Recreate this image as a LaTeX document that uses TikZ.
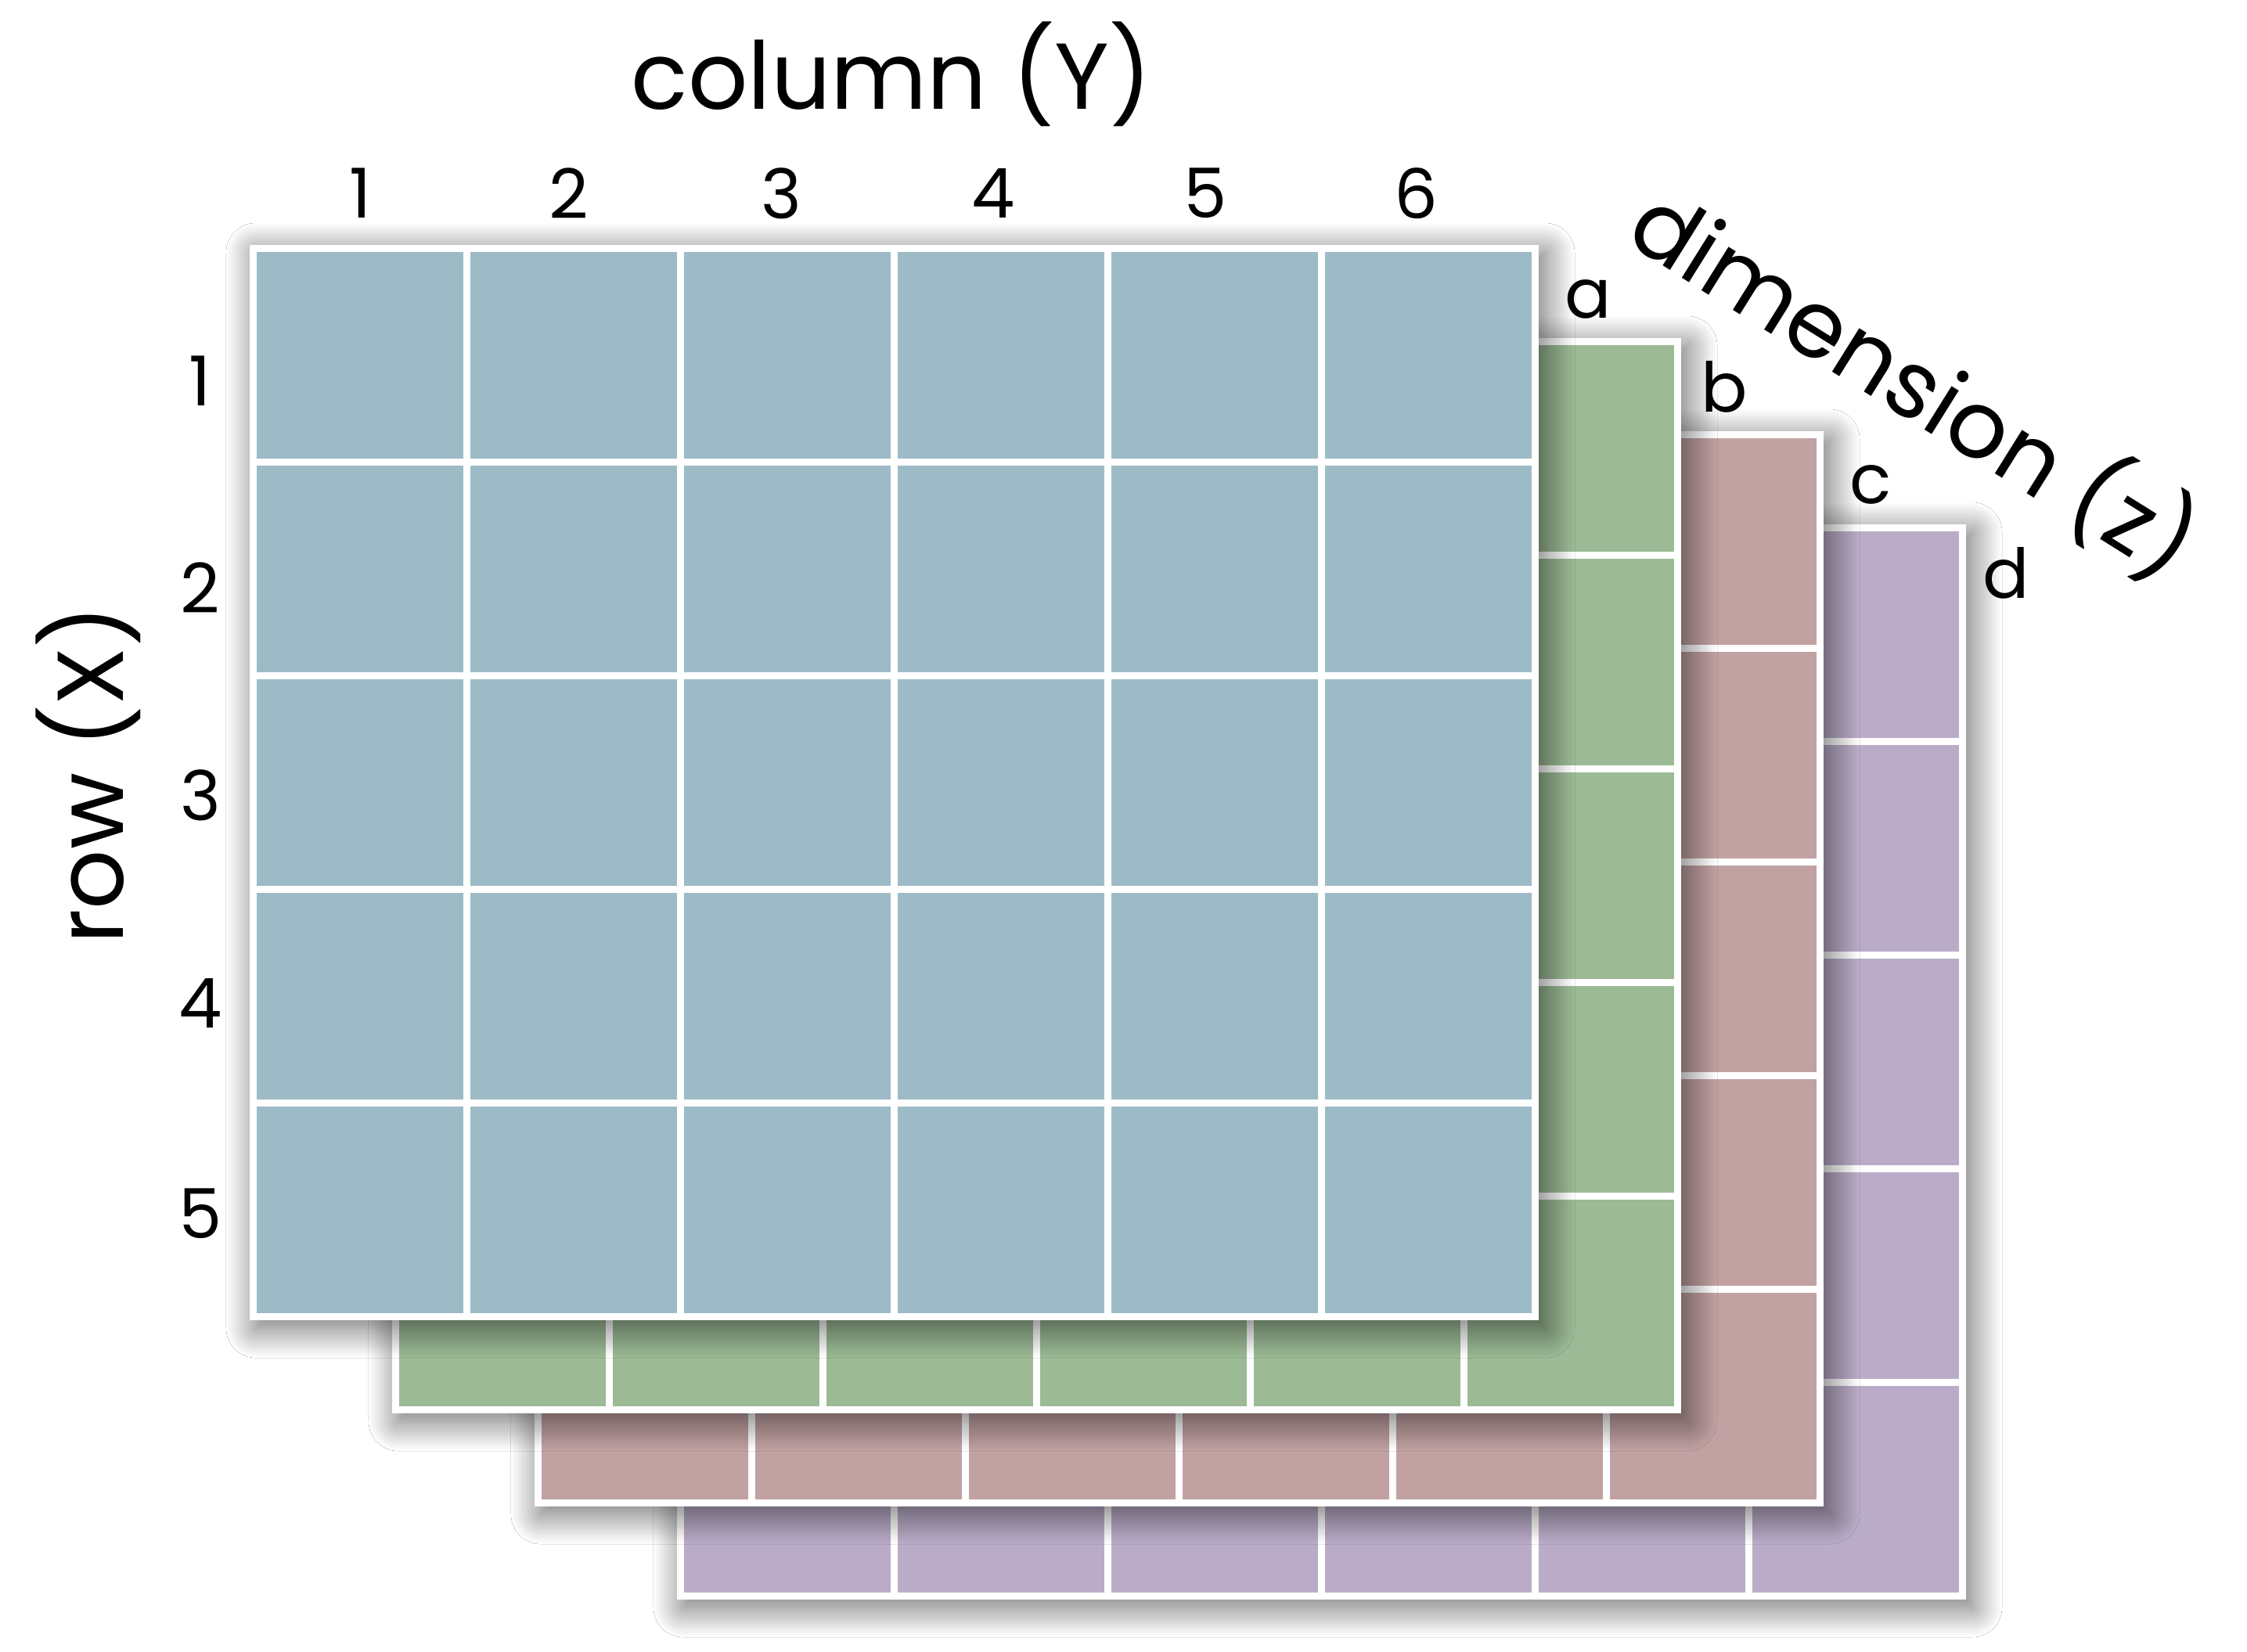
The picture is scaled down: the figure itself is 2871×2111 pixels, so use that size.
\documentclass[tikz,border=0pt]{standalone}
\usepackage{fontspec}
\setmainfont{Poppins}
\usetikzlibrary{shadows.blur}
\definecolor{cblue}{HTML}{9DBBC6}
\definecolor{cgreen}{HTML}{9BBA95}
\definecolor{cred}{HTML}{C1A1A2}
\definecolor{cpurple}{HTML}{BAACC8}
\tikzset{
  layerframe/.style={fill=white, blur shadow={shadow xshift=0.08cm, shadow yshift=-0.1cm, shadow blur radius=0.38cm, shadow opacity=60, shadow blur steps=40}},
  numlbl/.style={font=\fontsize{25}{30}\selectfont, inner sep=0pt},
  titlelbl/.style={font=\fontsize{34}{40}\selectfont, inner sep=0pt},
}
\newcommand\drawlayer[2]{%
  \begin{scope}[shift={(#1*182,#1*119)}]
    \path[layerframe] (319,313) rectangle (1966,1687);
    \foreach \c in {0,...,5}{\foreach \r in {0,...,4}{
      \fill[#2] ({328+\c*273},{322+\r*273}) rectangle ++(264,264);}}
  \end{scope}}
\begin{document}
\begin{tikzpicture}[x=0.01cm,y=-0.01cm]
  \useasboundingbox (0,0) rectangle (2871,2111);
  \fill[white] (0,0) rectangle (2871,2111);
  \drawlayer{3}{cpurple}
  \drawlayer{2}{cred}
  \drawlayer{1}{cgreen}
  \drawlayer{0}{cblue}
  \node[titlelbl] (coltitle) at (1139,95) {column (Y)};
  \node[titlelbl, rotate=90] (rowtitle) at (113,990) {row (X)};
  \node[titlelbl, rotate=-32] (dimtitle) at (2446,488) {dimension (z)};
  \foreach \x/\t in {461/1,727/2,998/3,1269/4,1540/5,1809/6}
    \node[numlbl] (col\t) at (\x,247) {\t};
  \foreach \y/\t in {487/1,751/2,1016/3,1282/4,1551/5}
    \node[numlbl] (row\t) at (256,\y) {\t};
  \node[numlbl] (za) at (2029,382) {a};
  \node[numlbl] (zb) at (2203,494) {b};
  \node[numlbl] (zc) at (2390,619) {c};
  \node[numlbl] (zd) at (2563,732) {d};
\end{tikzpicture}
\end{document}
